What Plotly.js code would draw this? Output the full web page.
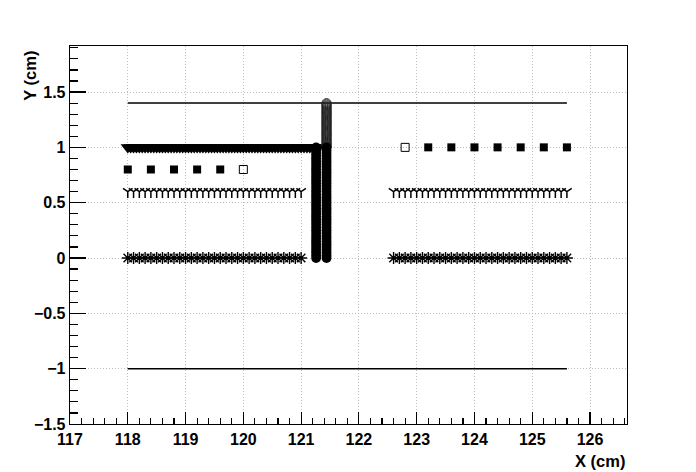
<!DOCTYPE html>
<html>
<head>
<meta charset="utf-8">
<script src="https://cdn.plot.ly/plotly-3.0.1.min.js"></script>
<style>html,body{margin:0;padding:0;background:#fff;}#chart{width:696px;height:472px;}</style>
</head>
<body>
<div id="chart"></div>
<script>
// ---- data ----
var lineX = [118.0, 125.6];
var topLineY = [1.4, 1.4];
var bottomLineY = [-1.0, -1.0];

var triX = [118.0,118.05,118.1,118.15,118.2,118.25,118.3,118.35,118.4,118.45,
            118.5,118.55,118.6,118.65,118.7,118.75,118.8,118.85,118.9,118.95,
            119.0,119.05,119.1,119.15,119.2,119.25,119.3,119.35,119.4,119.45,
            119.5,119.55,119.6,119.65,119.7,119.75,119.8,119.85,119.9,119.95,
            120.0,120.05,120.1,120.15,120.2,120.25,120.3,120.35,120.4,120.45,
            120.5,120.55,120.6,120.65,120.7,120.75,120.8,120.85,120.9,120.95,
            121.0,121.05,121.1,121.15,121.2,121.25,121.3];
var triY = 1.0;

var rowLeftX = [118.0,118.1,118.2,118.3,118.4,118.5,118.6,118.7,118.8,118.9,
                119.0,119.1,119.2,119.3,119.4,119.5,119.6,119.7,119.8,119.9,
                120.0,120.1,120.2,120.3,120.4,120.5,120.6,120.7,120.8,120.9,121.0];
var rowRightX = [122.6,122.7,122.8,122.9,123.0,123.1,123.2,123.3,123.4,123.5,
                 123.6,123.7,123.8,123.9,124.0,124.1,124.2,124.3,124.4,124.5,
                 124.6,124.7,124.8,124.9,125.0,125.1,125.2,125.3,125.4,125.5,125.6];
var wyeY = 0.6;
var starY = 0.0;

var sqLeftX = [118.0, 118.4, 118.8, 119.2, 119.6];
var sqLeftOpenX = [120.0];
var sqLeftY = 0.8;
var sqRightX = [123.2, 123.6, 124.0, 124.4, 124.8, 125.2, 125.6];
var sqRightOpenX = [122.8];
var sqRightY = 1.0;

var colLeftX = 121.26;
var colRightX = 121.44;
var colY = [0.0,0.025,0.05,0.075,0.1,0.125,0.15,0.175,0.2,0.225,
            0.25,0.275,0.3,0.325,0.35,0.375,0.4,0.425,0.45,0.475,
            0.5,0.525,0.55,0.575,0.6,0.625,0.65,0.675,0.7,0.725,
            0.75,0.775,0.8,0.825,0.85,0.875,0.9,0.925,0.95,0.975,1.0];
var upperColY = [1.0,1.01,1.02,1.03,1.04,1.05,1.06,1.07,1.08,1.09,
                 1.1,1.11,1.12,1.13,1.14,1.15,1.16,1.17,1.18,1.19,
                 1.2,1.21,1.22,1.23,1.24,1.25,1.26,1.27,1.28,1.29,
                 1.3,1.31,1.32,1.33,1.34,1.35,1.36,1.37,1.38,1.39,1.4];

var xTitle = 'X (cm)';
var yTitle = 'Y (cm)';

// ---- helpers ----
function constArr(arr, v) { return arr.map(function(){ return v; }); }

var BLACK = '#000000';
var traces = [
  {x: lineX, y: topLineY, mode: 'lines', line: {color: BLACK, width: 1.5}, hoverinfo: 'skip'},
  {x: lineX, y: bottomLineY, mode: 'lines', line: {color: BLACK, width: 1.5}, hoverinfo: 'skip'},
  {x: triX, y: constArr(triX, triY), mode: 'markers',
   marker: {symbol: 'triangle-down', size: 12.5, color: BLACK, line: {width: 0}}},
  {x: rowLeftX, y: constArr(rowLeftX, wyeY), mode: 'markers',
   marker: {symbol: 'y-down', size: 8, color: BLACK, line: {color: BLACK, width: 1.5}}},
  {x: rowRightX, y: constArr(rowRightX, wyeY), mode: 'markers',
   marker: {symbol: 'y-down', size: 8, color: BLACK, line: {color: BLACK, width: 1.5}}},
  {x: rowLeftX, y: constArr(rowLeftX, starY), mode: 'markers',
   marker: {symbol: 'asterisk', size: 10, color: BLACK, line: {color: BLACK, width: 1.4}}},
  {x: rowRightX, y: constArr(rowRightX, starY), mode: 'markers',
   marker: {symbol: 'asterisk', size: 10, color: BLACK, line: {color: BLACK, width: 1.4}}},
  {x: sqLeftX, y: constArr(sqLeftX, sqLeftY), mode: 'markers',
   marker: {symbol: 'square', size: 8, color: BLACK, line: {width: 0}}},
  {x: sqLeftOpenX, y: constArr(sqLeftOpenX, sqLeftY), mode: 'markers',
   marker: {symbol: 'square-open', size: 8, color: BLACK, line: {color: BLACK, width: 1}}},
  {x: sqRightX, y: constArr(sqRightX, sqRightY), mode: 'markers',
   marker: {symbol: 'square', size: 8, color: BLACK, line: {width: 0}}},
  {x: sqRightOpenX, y: constArr(sqRightOpenX, sqRightY), mode: 'markers',
   marker: {symbol: 'square-open', size: 8, color: BLACK, line: {color: BLACK, width: 1}}},
  {x: constArr(upperColY, colRightX), y: upperColY, mode: 'markers',
   marker: {symbol: 'circle-open', size: 9, color: '#222', line: {color: '#222', width: 1}}},
  {x: constArr(colY, colLeftX), y: colY, mode: 'markers',
   marker: {symbol: 'circle', size: 9.8, color: BLACK, line: {width: 0}}},
  {x: constArr(colY, colRightX), y: colY, mode: 'markers',
   marker: {symbol: 'circle', size: 9.8, color: BLACK, line: {width: 0}}}
];

var tickFont = {family: 'Liberation Sans, Arial, sans-serif', size: 16, color: BLACK, weight: 'bold'};
var titleFont = {family: 'Liberation Sans, Arial, sans-serif', size: 16.5, color: BLACK, weight: 'bold'};
var axisCommon = {
  showline: true, linecolor: BLACK, linewidth: 1.3, mirror: true,
  ticks: 'inside', tickwidth: 1.2, tickcolor: BLACK,
  showgrid: true, gridcolor: '#bdbdbd', gridwidth: 1, griddash: '1px,2px',
  zeroline: false, tickfont: tickFont, fixedrange: true
};

var layout = {
  width: 696, height: 472,
  margin: {l: 70, r: 69, t: 46, b: 48, pad: 0},
  paper_bgcolor: '#ffffff', plot_bgcolor: '#ffffff',
  showlegend: false,
  xaxis: Object.assign({}, axisCommon, {
    range: [117, 126.64], tick0: 117, dtick: 1, ticklen: 12,
    minor: {dtick: 0.2, ticks: 'inside', ticklen: 6, tickwidth: 1.2, tickcolor: BLACK, showgrid: false}
  }),
  yaxis: Object.assign({}, axisCommon, {
    range: [-1.5, 1.916], tick0: -1.5, dtick: 0.5, ticklen: 16,
    minor: {dtick: 0.1, ticks: 'inside', ticklen: 8, tickwidth: 1.2, tickcolor: BLACK, showgrid: false}
  }),
  annotations: [
    {text: xTitle, xref: 'paper', yref: 'paper', x: 1, y: -0.098, xanchor: 'right', yanchor: 'middle',
     showarrow: false, font: titleFont},
    {text: yTitle, xref: 'paper', yref: 'paper', x: -0.072, y: 0.921, xanchor: 'center', yanchor: 'middle',
     textangle: -90, showarrow: false, font: titleFont}
  ]
};

Plotly.newPlot('chart', traces, layout, {displayModeBar: false, staticPlot: true});
</script>
</body>
</html>
